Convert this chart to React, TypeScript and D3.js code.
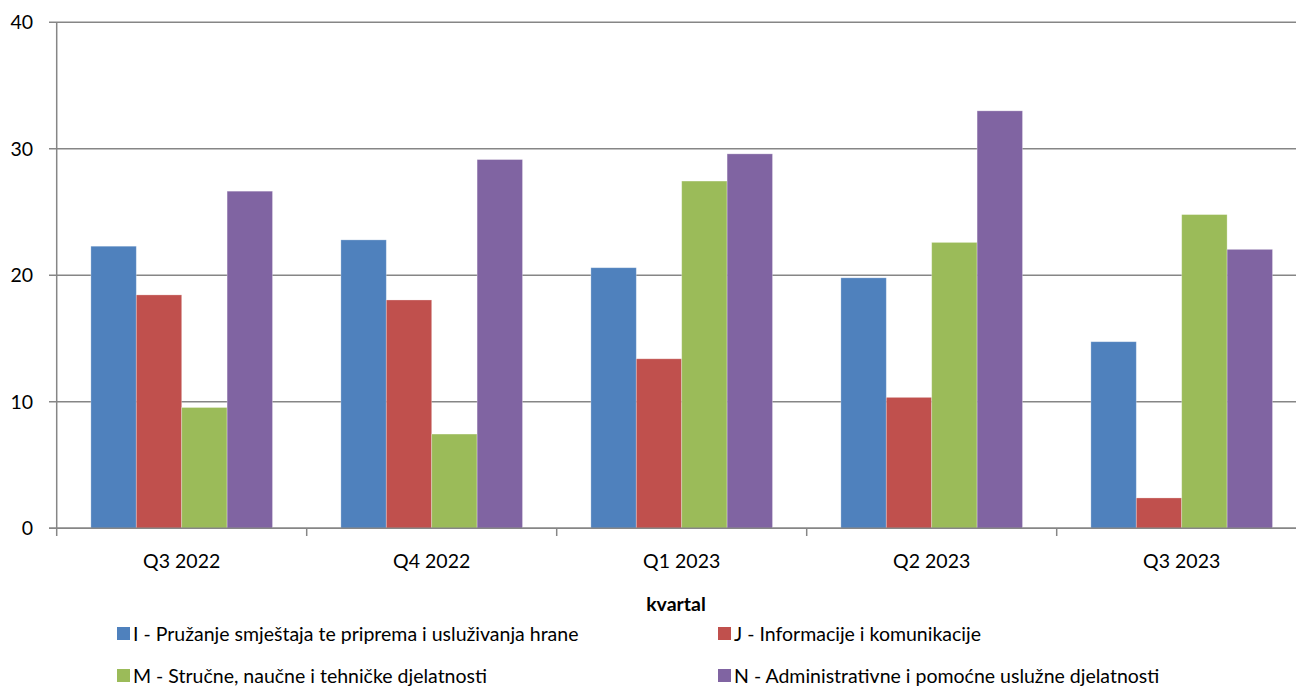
import React from "react";
import * as d3 from "d3";

const categories = ["Q3 2022", "Q4 2022", "Q1 2023", "Q2 2023", "Q3 2023"];
const seriesNames = [
  "I - Pružanje smještaja te priprema i usluživanja hrane",
  "J - Informacije i komunikacije",
  "M - Stručne, naučne i tehničke djelatnosti",
  "N - Administrativne i pomoćne uslužne djelatnosti",
];
const seriesColors = ["#4F81BD", "#C0504D", "#9BBB59", "#8064A2"];
const valuesI = [22.3, 22.8, 20.6, 19.8, 14.75];
const valuesJ = [18.45, 18.05, 13.4, 10.35, 2.4];
const valuesM = [9.55, 7.45, 27.45, 22.6, 24.8];
const valuesN = [26.65, 29.15, 29.6, 33.0, 22.05];
const yTicks = [0, 10, 20, 30, 40];
const axisTitle = "kvartal";

const series = [valuesI, valuesJ, valuesM, valuesN];

export default function App() {
  const W = 1296, H = 686;
  const left = 56.7, right = 1306.7, top = 22.3, bottom = 528.3;
  const font = "Lato, 'Open Sans', sans-serif";
  const fs = 19.5;

  const x = d3.scaleBand<string>().domain(categories).range([left, right]).paddingInner(0).paddingOuter(0);
  const inner = d3.scaleBand<number>().domain(d3.range(series.length)).range([0, x.bandwidth()]).paddingOuter(0.753).paddingInner(0);
  const y = d3.scaleLinear().domain([0, 40]).range([bottom, top]);

  const boundaries = d3.range(categories.length + 1).map((i) => left + i * x.bandwidth());

  return (
    <svg width={W} height={H} style={{ position: "absolute", left: 0, top: 0, background: "#fff" }} fontFamily={font}>
      {yTicks.map((t) => (
        <g key={t}>
          <line x1={49} x2={W} y1={y(t)} y2={y(t)} stroke="#868686" strokeWidth={1.5} />
          <text x={33} y={y(t)} dy="0.35em" textAnchor="end" fontSize={fs} fill="#000">{t}</text>
        </g>
      ))}
      {series.map((vals, si) =>
        vals.map((v, ci) => {
          const bx = (x(categories[ci]) as number) + (inner(si) as number);
          return (
            <rect key={`${si}-${ci}`} x={bx} y={y(v)} width={inner.bandwidth()} height={y(0) - y(v)}
              fill={seriesColors[si]} stroke="#ffffff" strokeOpacity={0.35} strokeWidth={0.8} />
          );
        })
      )}
      <line x1={left} x2={left} y1={top} y2={536} stroke="#868686" strokeWidth={1.5} />
      <line x1={49} x2={W} y1={bottom} y2={bottom} stroke="#868686" strokeWidth={1.5} />
      {boundaries.slice(1).map((b, i) => (
        <line key={i} x1={b} x2={b} y1={bottom} y2={536} stroke="#868686" strokeWidth={1.5} />
      ))}
      {categories.map((c) => (
        <text key={c} x={(x(c) as number) + x.bandwidth() / 2} y={561} dy="0.35em" textAnchor="middle" fontSize={fs} fill="#000">{c}</text>
      ))}
      <text x={676} y={604} dy="0.35em" textAnchor="middle" fontSize={fs} fontWeight="bold" fill="#000">{axisTitle}</text>
      {seriesNames.map((n, i) => {
        const col = i % 2;
        const row = Math.floor(i / 2);
        const lx = col === 0 ? 117 : 718;
        const ly = row === 0 ? 634 : 676;
        return (
          <g key={n}>
            <rect x={lx} y={ly - 7} width={13} height={13} fill={seriesColors[i]} />
            <text x={lx + 16} y={ly} dy="0.35em" fontSize={fs} fill="#000">{n}</text>
          </g>
        );
      })}
    </svg>
  );
}
